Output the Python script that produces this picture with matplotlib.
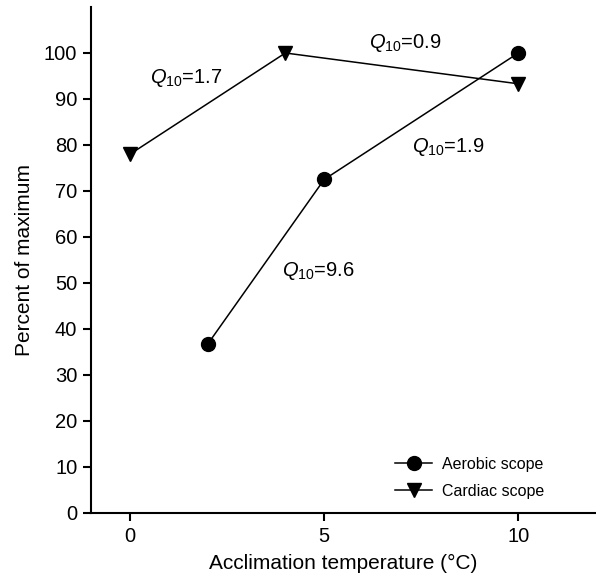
import matplotlib
matplotlib.use("Agg")
import matplotlib.pyplot as plt

plt.rcParams['font.family'] = ['Liberation Sans', 'DejaVu Sans']
plt.rcParams['mathtext.fontset'] = 'custom'
plt.rcParams['mathtext.rm'] = 'Liberation Sans'
plt.rcParams['mathtext.it'] = 'Liberation Sans:italic'

aerobic_x = [2, 5, 10]
aerobic_y = [36.7, 72.5, 100]
cardiac_x = [0, 4, 10]
cardiac_y = [78, 100, 93.3]
xticks = [0, 5, 10]
yticks = [0, 10, 20, 30, 40, 50, 60, 70, 80, 90, 100]
q10_labels = ["1.7", "0.9", "1.9", "9.6"]
q10_pos = [(1.45, 94.5), (7.1, 102.2), (8.2, 79.6), (4.85, 52.6)]

fig = plt.figure(figsize=(5.96, 5.82), dpi=100)
ax = fig.add_axes([0.153, 0.1186, 0.847, 0.8694])

ax.plot(aerobic_x, aerobic_y, color='black', lw=1.1, marker='o', ms=10, label='Aerobic scope')
ax.plot(cardiac_x, cardiac_y, color='black', lw=1.1, marker='v', ms=10, label='Cardiac scope')

for lab, (x, y) in zip(q10_labels, q10_pos):
    ax.text(x, y, r'$\mathit{Q}_{\mathrm{10}}$=' + lab, ha='center', va='center', fontsize=14.5)

ax.set_xlim(-1, 12)
ax.set_ylim(0, 110)
ax.set_xticks(xticks)
ax.set_yticks(yticks)
ax.spines['top'].set_visible(False)
ax.spines['right'].set_visible(False)
for s in ['left', 'bottom']:
    ax.spines[s].set_linewidth(1.5)
ax.tick_params(width=1.5, length=6, pad=4, labelsize=14.5)
ax.set_xlabel('Acclimation temperature (°C)', fontsize=15, labelpad=6)
ax.set_ylabel('Percent of maximum', fontsize=15, labelpad=7)

ax.legend(loc='lower right', bbox_to_anchor=(0.925, 0.0), frameon=False, fontsize=11.5,
          handlelength=2.3, markerscale=1.0, handletextpad=0.6, labelspacing=0.75)

fig.savefig('out.png', dpi=100)
